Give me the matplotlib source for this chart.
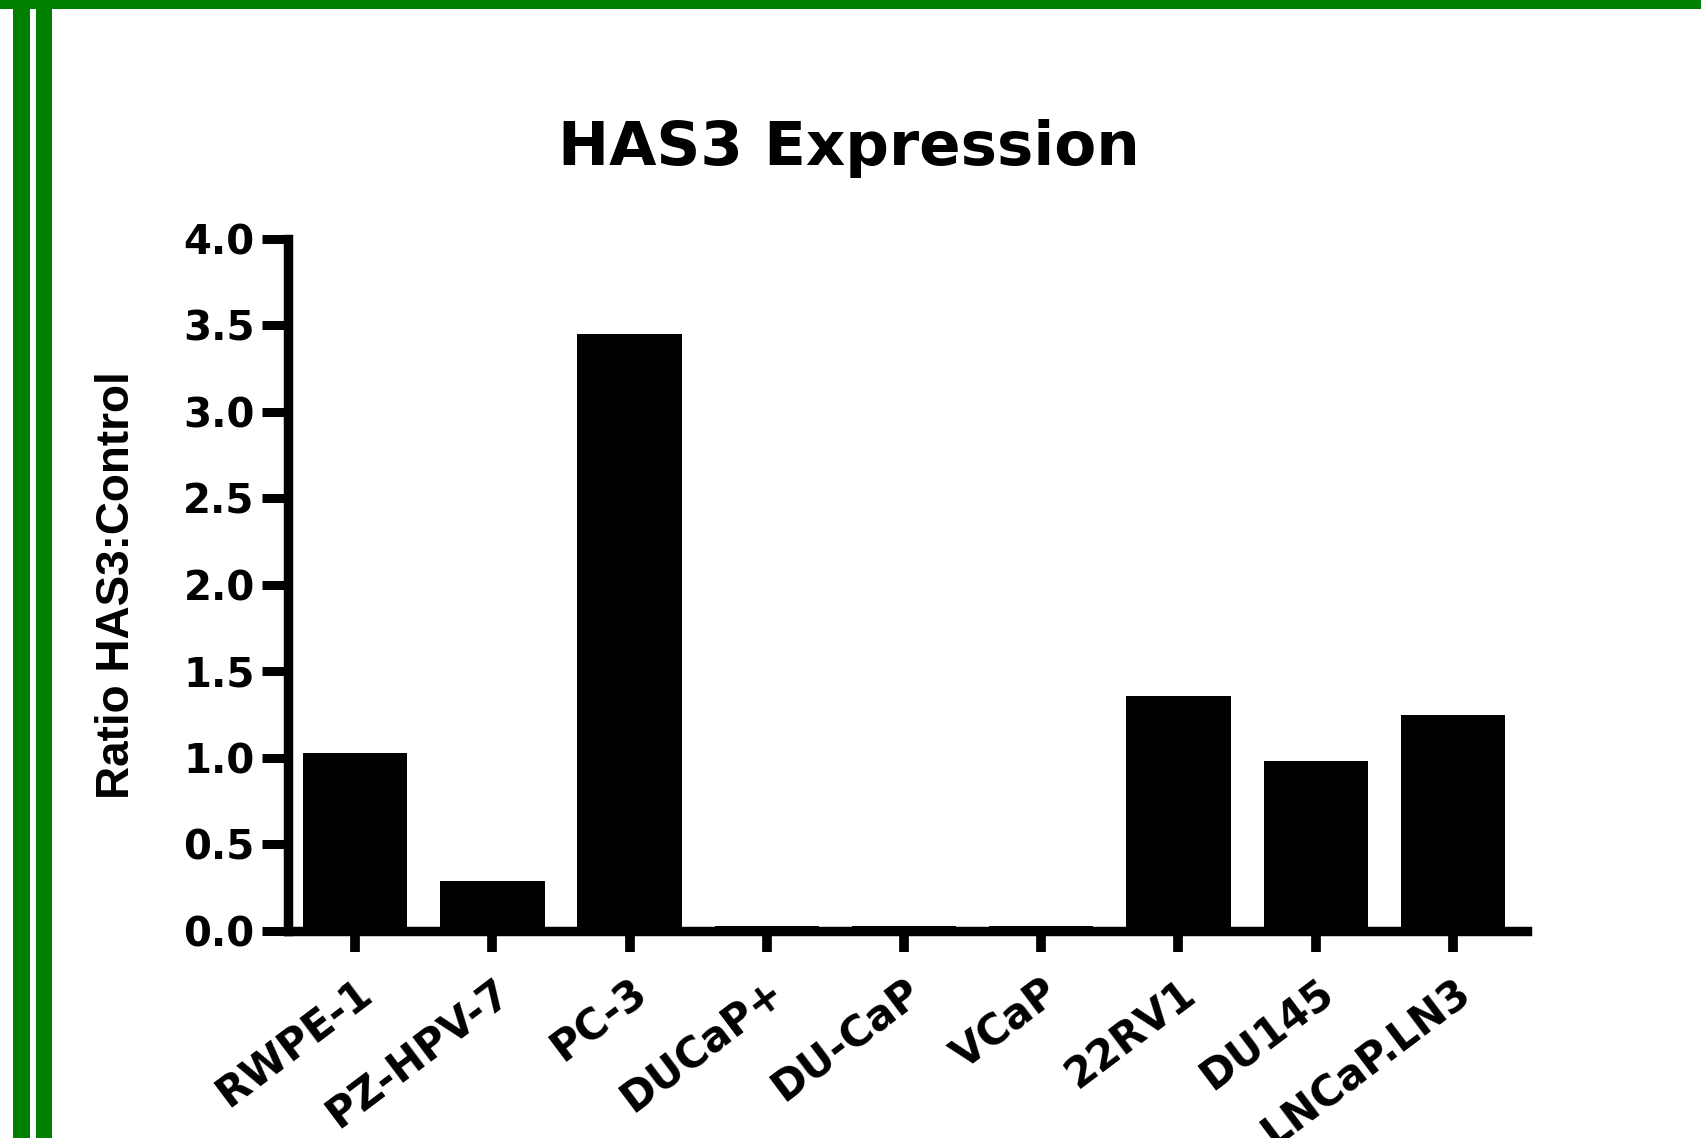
import matplotlib
matplotlib.use("Agg")
import matplotlib.pyplot as plt
from matplotlib.patches import Rectangle

cell_lines = ['RWPE-1', 'PZ-HPV-7', 'PC-3', 'DUCaP+', 'DU-CaP', 'VCaP',
              '22RV1', 'DU145', 'LNCaP.LN3']
ratio = [1.03, 0.29, 3.45, 0.03, 0.03, 0.03, 1.36, 0.98, 1.25]
yticks = [0.0, 0.5, 1.0, 1.5, 2.0, 2.5, 3.0, 3.5, 4.0]

fig = plt.figure(figsize=(17.01, 11.38), dpi=100)
ax = fig.add_axes([0.1693, 0.1819, 0.7284, 0.6081])

x = list(range(len(cell_lines)))
ax.bar(x, ratio, width=0.76, color='black')

ax.set_xlim(-0.49, 8.54)
ax.set_ylim(0, 4.0)
ax.set_yticks(yticks)
ax.set_yticklabels([f"{v:.1f}" for v in yticks], fontsize=29,
                   fontweight='heavy', family='DejaVu Sans')
ax.set_xticks(x)
ax.set_xticklabels(cell_lines, rotation=37, ha='right', rotation_mode='anchor',
                   fontsize=30, fontweight='bold', family='DejaVu Sans')

for side in ['top', 'right']:
    ax.spines[side].set_visible(False)
for side in ['left', 'bottom']:
    ax.spines[side].set_linewidth(6.8)
ax.tick_params(axis='y', length=19, width=6.5, pad=5)
ax.tick_params(axis='x', length=15, width=7, pad=14)

ax.set_ylabel('Ratio HAS3:Control', fontsize=33, fontweight='bold',
              family='Liberation Sans')
ax.yaxis.set_label_coords(-0.12, 0.5)

fig.text(0.499, 0.855, 'HAS3 Expression', ha='center', va='baseline',
         fontsize=44, fontweight='bold', family='DejaVu Sans')

# green frame lines
green = '#008000'
fig.add_artist(Rectangle((0, 1 - 9 / 1138), 1, 9 / 1138, transform=fig.transFigure,
                         color=green, lw=0))
fig.add_artist(Rectangle((13 / 1701, 0), 17 / 1701, 1, transform=fig.transFigure,
                         color=green, lw=0))
fig.add_artist(Rectangle((36 / 1701, 0), 16 / 1701, 1, transform=fig.transFigure,
                         color=green, lw=0))

fig.savefig('out.png', dpi=100)
